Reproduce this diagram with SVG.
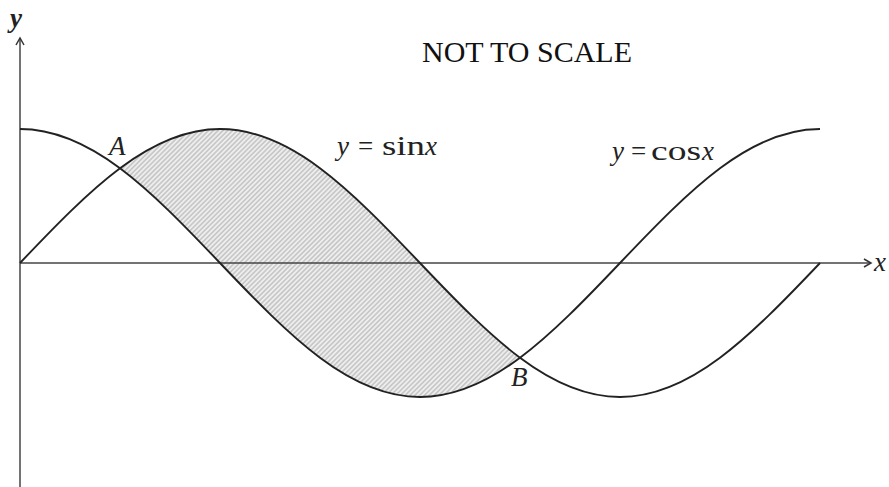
<svg xmlns="http://www.w3.org/2000/svg" width="889" height="487" viewBox="0 0 889 487">
<defs>
<pattern id="hatch" patternUnits="userSpaceOnUse" width="3.4" height="3.4" patternTransform="rotate(45)">
<rect x="0" y="0" width="3.4" height="3.4" fill="#eeeeee"/>
<line x1="1.7" y1="-1" x2="1.7" y2="4.4" stroke="#b3b3b3" stroke-width="1.1"/>
</pattern>
<marker id="arr" markerWidth="12" markerHeight="12" refX="10" refY="6" orient="auto" markerUnits="userSpaceOnUse">
<path d="M3,2 L10,6 L3,10" fill="none" stroke="#333" stroke-width="1.5"/>
</marker>
</defs>
<style>
.curve{fill:none;stroke:#222;stroke-width:1.9}
.axis{fill:none;stroke:#444;stroke-width:1.5}
.lbl{font-family:"Liberation Serif",serif;font-size:27px;fill:#222}
.it{font-style:italic}
</style>
<rect width="889" height="487" fill="#fff"/>
<g id="shaded">
<path d="M120,168.25 C152.42,144 184.84,129 220,129 C290.32,129 349.68,189 420,263 C455.16,300 487.58,333.5 520,357.75 C487.58,382 455.16,397 420,397 C349.68,397 290.32,337 220,263 C184.84,226 152.42,192.5 120,168.25 Z" fill="url(#hatch)"/>
</g>
<g id="connectors">
<line class="axis" x1="20" y1="487" x2="20" y2="38" marker-end="url(#arr)"/>
<line class="axis" x1="20" y1="263" x2="871" y2="263" marker-end="url(#arr)"/>
</g>
<g id="sin">
<path class="curve" d="M20,263 C90.32,189 149.68,129 220,129 C290.32,129 349.68,189 420,263 C490.32,337 549.68,397 620,397 C690.32,397 749.68,337 820,263"/>
</g>
<g id="cos">
<path class="curve" d="M20,129 C90.32,129 149.68,189 220,263 C290.32,337 349.68,397 420,397 C490.32,397 549.68,337 620,263 C690.32,189 749.68,129 820,129"/>
</g>
<g id="labels">
<text class="lbl it" x="10" y="27" font-weight="bold">y</text>
<text class="lbl it" x="874" y="271">x</text>
<text class="lbl it" x="109" y="155">A</text>
<text class="lbl it" x="511" y="386">B</text>
<text class="lbl it" x="337" y="155">y</text>
<text class="lbl" x="358" y="155">=</text>
<text class="lbl" x="382" y="155" textLength="43" lengthAdjust="spacingAndGlyphs">sin</text>
<text class="lbl it" x="425" y="155">x</text>
<text class="lbl it" x="612" y="160">y</text>
<text class="lbl" x="631" y="160">=</text>
<text class="lbl" x="651" y="160" textLength="50" lengthAdjust="spacingAndGlyphs">cos</text>
<text class="lbl it" x="702" y="160">x</text>
<text x="422" y="62" style="font-family:'Liberation Serif',serif;font-size:30px;fill:#111" textLength="210" lengthAdjust="spacingAndGlyphs">NOT TO SCALE</text>
</g>
</svg>
